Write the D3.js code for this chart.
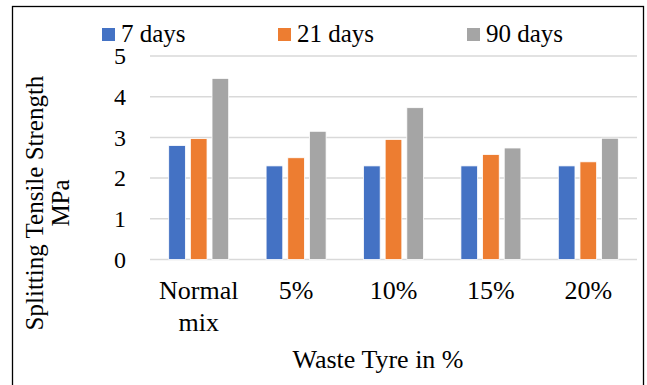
<!DOCTYPE html>
<html>
<head>
<meta charset="utf-8">
<script src="https://cdn.jsdelivr.net/npm/d3@7"></script>
<style>
  body { margin: 0; background: #fff; }
</style>
</head>
<body>
<div id="chart"></div>
<script>
// data
const categories = ["Normal mix", "5%", "10%", "15%", "20%"];
const seriesNames = ["7 days", "21 days", "90 days"];
const days7 = [2.8, 2.3, 2.3, 2.3, 2.3];
const days21 = [2.97, 2.5, 2.95, 2.58, 2.4];
const days90 = [4.45, 3.15, 3.73, 2.74, 2.98];
const yTicks = [0, 1, 2, 3, 4, 5];
const colors = ["#4472C4", "#ED7D31", "#A5A5A5"];

const FONT = "Liberation Serif";

const W = 647, H = 385;
const margin = { top: 56, right: 10, bottom: 125.5, left: 150 };
const width = 637 - margin.left;
const height = 259.5 - margin.top;

const svg = d3.select("#chart").append("svg")
  .attr("width", W)
  .attr("height", H);

// outer frame
svg.append("rect")
  .attr("x", 12.5).attr("y", 6.5)
  .attr("width", 631).attr("height", 390)
  .attr("fill", "none")
  .attr("stroke", "#000")
  .attr("stroke-width", 1.3);

const g = svg.append("g")
  .attr("transform", `translate(${margin.left}, ${margin.top})`);

const x0 = d3.scaleBand().domain(categories).range([0, width]).padding(0);
const x1 = d3.scaleBand().domain(seriesNames)
  .range([x0.bandwidth() / 2 - 30, x0.bandwidth() / 2 + 30])
  .paddingInner(0.23);
const y = d3.scaleLinear().domain([0, 5]).range([height, 0]);
const color = d3.scaleOrdinal().domain(seriesNames).range(colors);

// gridlines
g.append("g")
  .selectAll("line")
  .data(yTicks)
  .join("line")
  .attr("x1", 0).attr("x2", width)
  .attr("y1", d => y(d)).attr("y2", d => y(d))
  .attr("stroke", "#d9d9d9")
  .attr("stroke-width", 1.5);

// y axis labels
const yAxis = g.append("g")
  .call(d3.axisLeft(y).tickValues(yTicks).tickFormat(d3.format("d")).tickSize(0).tickPadding(24));
yAxis.select(".domain").remove();
yAxis.selectAll("text")
  .style("font-family", FONT)
  .style("font-size", "24px")
  .attr("fill", "#000");

// bars
const table = categories.map((c, i) => ({
  cat: c,
  values: [days7[i], days21[i], days90[i]].map((v, j) => ({ key: seriesNames[j], value: v }))
}));

g.selectAll(".group")
  .data(table)
  .join("g")
  .attr("class", "group")
  .attr("transform", d => `translate(${x0(d.cat)}, 0)`)
  .selectAll("rect")
  .data(d => d.values)
  .join("rect")
  .attr("x", d => x1(d.key))
  .attr("y", d => y(d.value))
  .attr("width", x1.bandwidth())
  .attr("height", d => height - y(d.value))
  .attr("fill", d => color(d.key))
  .attr("stroke", "#fff")
  .attr("stroke-width", 0.8);

// x axis labels (wrapped)
const xAxis = g.append("g")
  .attr("transform", `translate(0, ${height})`)
  .call(d3.axisBottom(x0).tickSize(0).tickFormat(""));
xAxis.select(".domain").remove();
xAxis.selectAll(".tick")
  .append("text")
  .attr("text-anchor", "middle")
  .attr("fill", "#000")
  .style("font-family", FONT)
  .style("font-size", "26px")
  .each(function(d) {
    const words = d.split(" ");
    const t = d3.select(this);
    words.forEach((w, i) => {
      t.append("tspan").attr("x", 0).attr("y", 39 + i * 32).text(w);
    });
  });

// axis titles
svg.append("text")
  .attr("x", 378)
  .attr("y", 368)
  .attr("text-anchor", "middle")
  .style("font-family", FONT)
  .style("font-size", "26px")
  .text("Waste Tyre in %");

const yTitle = svg.append("text")
  .attr("transform", "translate(43, 203) rotate(-90)")
  .attr("text-anchor", "middle")
  .style("font-family", FONT)
  .style("font-size", "25px");
yTitle.append("tspan").attr("x", 0).attr("y", 0).text("Splitting Tensile Strength");
yTitle.append("tspan").attr("x", 0).attr("y", 26).text("MPa");

// legend
const legendX = [102, 278, 467];
const legend = svg.append("g").attr("class", "legend");
seriesNames.forEach((s, i) => {
  legend.append("rect")
    .attr("x", legendX[i]).attr("y", 28)
    .attr("width", 13).attr("height", 13)
    .attr("fill", color(s));
  legend.append("text")
    .attr("x", legendX[i] + 19).attr("y", 42)
    .style("font-family", FONT)
    .style("font-size", "25px")
    .text(s);
});
</script>
</body>
</html>
